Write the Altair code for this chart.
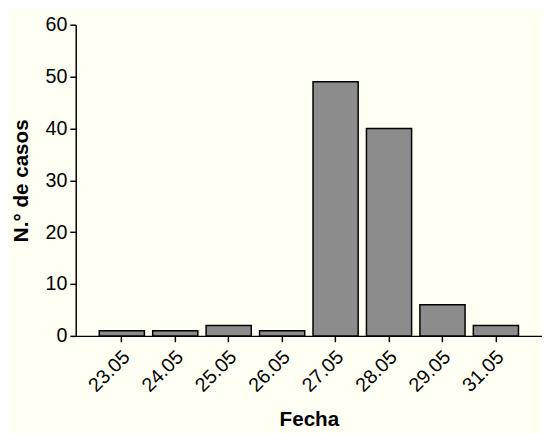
import altair as alt
import pandas as pd

fechas = ["23.05", "24.05", "25.05", "26.05", "27.05", "28.05", "29.05", "31.05"]
casos = [1, 1, 2, 1, 49, 40, 6, 2]

df = pd.DataFrame({"Fecha": fechas, "Casos": casos})

FONT = "Liberation Sans"

chart = alt.Chart(df).mark_bar(
    color="#8c8c8c", stroke="black", strokeWidth=1.5
).encode(
    x=alt.X("Fecha:N", sort=fechas,
            scale=alt.Scale(paddingInner=0.155, paddingOuter=0.44, align=0.5),
            axis=alt.Axis(title="Fecha", labelAngle=-45, labelAlign="right",
                          labelBaseline="top", labelFontSize=20, titleFontSize=21,
                          titleFontWeight="bold", titlePadding=14,
                          labelPadding=5, labelOffset=-2, tickSize=6, domainWidth=1.5,
                          tickWidth=1.5, labelColor="black", titleColor="black",
                          domainColor="black", tickColor="black",
                          labelFont=FONT, titleFont=FONT)),
    y=alt.Y("Casos:Q", scale=alt.Scale(domain=[0, 60], nice=False),
            axis=alt.Axis(title="N.° de casos", values=[0, 10, 20, 30, 40, 50, 60],
                          grid=False, labelFontSize=20, titleFontSize=21,
                          titleFontWeight="bold", titlePadding=14, tickSize=6,
                          domainWidth=1.5, tickWidth=1.5, labelColor="black",
                          titleColor="black", domainColor="black", tickColor="black",
                          labelFont=FONT, titleFont=FONT, labelPadding=3)),
).properties(
    width=475, height=317,
    autosize=alt.AutoSizeParams(type="none"),
    padding={"left": 69, "top": 13, "right": 0, "bottom": 100},
    background="#fffff4",
).configure_view(stroke=None)

chart.save("out.html", embed_options={"renderer": "svg", "actions": False})
